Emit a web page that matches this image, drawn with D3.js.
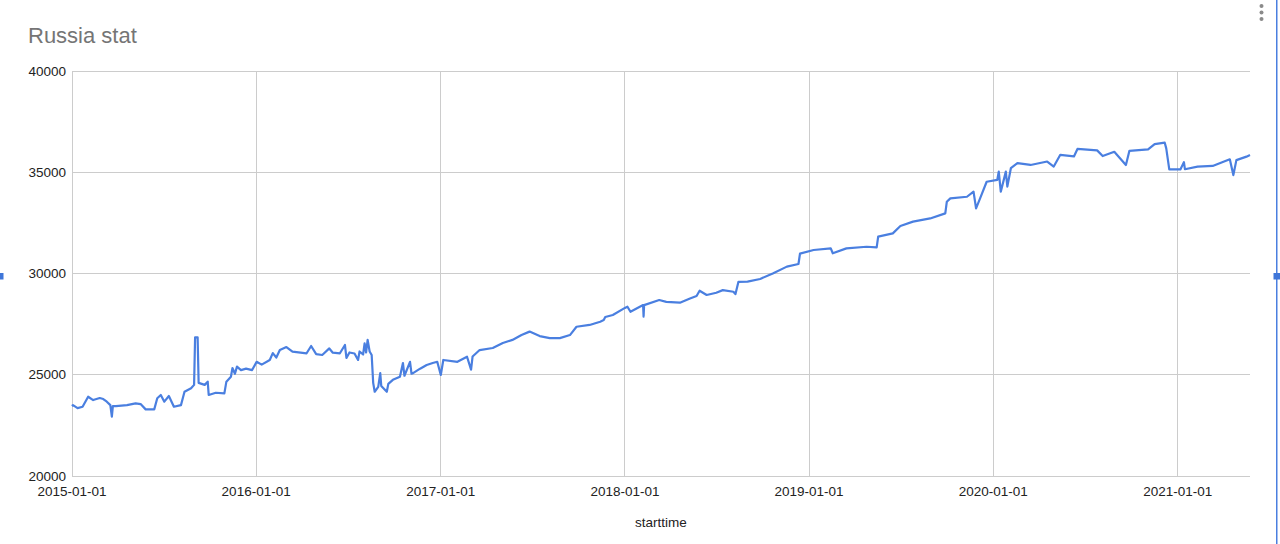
<!DOCTYPE html>
<html><head><meta charset="utf-8">
<script src="https://cdn.jsdelivr.net/npm/d3@7/dist/d3.min.js"></script>
<style>body{margin:0;background:#fff;overflow:hidden}svg{display:block}</style>
</head><body>
<svg id="c" width="1280" height="544"></svg>
<script>
const title = "Russia stat";
const xAxisTitle = "starttime";
const yTicks = [20000, 25000, 30000, 35000, 40000];
const xTickLabels = ["2015-01-01","2016-01-01","2017-01-01","2018-01-01","2019-01-01","2020-01-01","2021-01-01"];
const dates = [
"2015-01-01","2015-01-03","2015-01-12","2015-01-22","2015-02-02","2015-02-12","2015-02-25","2015-03-04","2015-03-11","2015-03-18","2015-03-21","2015-03-23","2015-03-29","2015-04-20","2015-05-07","2015-05-17","2015-05-27","2015-06-13","2015-06-19","2015-06-26","2015-07-03","2015-07-12","2015-07-22","2015-08-05","2015-08-12","2015-08-25","2015-08-31","2015-09-02","2015-09-07","2015-09-09","2015-09-21","2015-09-27","2015-09-29","2015-10-13","2015-10-30","2015-11-03","2015-11-12","2015-11-15","2015-11-20","2015-11-24","2015-12-02","2015-12-12","2015-12-24",
"2016-01-02","2016-01-12","2016-01-28","2016-02-03","2016-02-10","2016-02-17","2016-03-01","2016-03-13","2016-04-10","2016-04-19","2016-04-29","2016-05-11","2016-05-25","2016-06-01","2016-06-15","2016-06-25","2016-06-28","2016-07-04","2016-07-14","2016-07-21","2016-07-24","2016-07-31","2016-08-03","2016-08-06","2016-08-09","2016-08-13","2016-08-17","2016-08-20","2016-08-23","2016-08-30","2016-09-03","2016-09-05","2016-09-16","2016-09-19","2016-09-28","2016-10-12","2016-10-18","2016-10-21","2016-11-01","2016-11-04","2016-11-07","2016-11-21","2016-12-04","2016-12-16","2016-12-25",
"2017-01-01","2017-01-06","2017-02-03","2017-02-22","2017-03-02","2017-03-05","2017-03-19","2017-04-14","2017-05-04","2017-05-23","2017-06-10","2017-06-26","2017-07-16","2017-08-05","2017-08-25","2017-09-14","2017-09-27","2017-10-23","2017-11-13","2017-11-20","2017-11-23","2017-12-08",
"2018-01-01","2018-01-06","2018-01-12","2018-02-06","2018-02-07","2018-02-08","2018-03-10","2018-03-24","2018-04-20","2018-05-10","2018-05-23","2018-05-29","2018-06-12","2018-07-01","2018-07-14","2018-08-04","2018-08-08","2018-08-14","2018-09-01","2018-09-26","2018-10-21","2018-11-18","2018-12-11","2018-12-14",
"2019-01-10","2019-02-13","2019-02-17","2019-03-16","2019-04-25","2019-05-15","2019-05-18","2019-06-16","2019-07-01","2019-07-26","2019-08-29","2019-09-28","2019-10-01","2019-10-08","2019-11-10","2019-11-23","2019-11-28","2019-12-06","2019-12-19",
"2020-01-09","2020-01-12","2020-01-16","2020-01-26","2020-01-29","2020-02-05","2020-02-18","2020-03-15","2020-04-17","2020-04-30","2020-05-13","2020-06-09","2020-06-16","2020-07-25","2020-08-05","2020-08-28","2020-09-20","2020-09-27","2020-11-03","2020-11-16","2020-12-06","2020-12-09","2020-12-15",
"2021-01-06","2021-01-13","2021-01-15","2021-02-09","2021-03-11","2021-04-14","2021-04-21","2021-04-27","2021-05-17","2021-05-24"
];
const values = [
23450,23500,23350,23420,23915,23750,23850,23800,23670,23500,22930,23450,23450,23500,23590,23550,23290,23290,23840,24000,23670,23950,23420,23500,24160,24330,24500,26850,26850,24600,24500,24660,24000,24110,24080,24660,24900,25330,25050,25400,25230,25300,25230,
25640,25500,25730,26070,25850,26220,26370,26140,26060,26420,26020,25975,26300,26090,26060,26470,25830,26100,26050,25730,26150,26000,26550,26100,26720,26150,25975,24600,24160,24400,25080,24450,24160,24550,24750,24900,25580,24950,25640,25050,25080,25300,25480,25580,25640,
24990,25730,25640,25890,25250,25900,26220,26320,26570,26720,26960,27130,26910,26810,26810,26960,27370,27460,27620,27700,27850,27950,
28300,28360,28110,28440,27870,28440,28690,28600,28560,28770,28890,29150,28940,29050,29180,29100,28980,29590,29600,29730,30000,30340,30470,30980,
31160,31240,31000,31240,31320,31290,31820,31980,32345,32560,32720,32970,33540,33710,33790,34040,33220,33710,34530,
34620,35030,34040,35030,34290,35200,35450,35360,35530,35280,35860,35780,36150,36080,35800,36010,35360,36060,36130,36390,36460,36180,35140,
35140,35500,35150,35280,35310,35640,34860,35600,35770,35850
];

const parse = d3.timeParse("%Y-%m-%d");
const data = dates.map((d,i)=>({t:parse(d), v:values[i]}));
const svg = d3.select("#c");
const L=72, R=1250, T=71, B=476;
const x = d3.scaleTime().domain([parse("2015-01-01"), parse("2021-05-24")]).range([L,R]);
const y = d3.scaleLinear().domain([20000,40000]).range([B,T]);
const font = "Arial, 'Liberation Sans', sans-serif";

// gridlines
svg.append("g").selectAll("line").data(yTicks).join("line")
  .attr("x1",L).attr("x2",R).attr("y1",d=>y(d)).attr("y2",d=>y(d))
  .attr("stroke","#cccccc").attr("stroke-width",1).attr("shape-rendering","crispEdges");
const xt = xTickLabels.map(parse);
svg.append("g").selectAll("line").data(xt).join("line")
  .attr("x1",d=>x(d)).attr("x2",d=>x(d)).attr("y1",T).attr("y2",B)
  .attr("stroke","#cccccc").attr("stroke-width",1).attr("shape-rendering","crispEdges");

// y labels
svg.append("g").selectAll("text").data(yTicks).join("text")
  .attr("x",L-6).attr("y",d=>y(d)).attr("dy","0.35em").attr("text-anchor","end")
  .attr("font-family",font).attr("font-size",13.5).attr("fill","#222").text(d=>d);
// x labels
svg.append("g").selectAll("text").data(xt).join("text")
  .attr("x",d=>x(d)).attr("y",B+20).attr("text-anchor","middle")
  .attr("font-family",font).attr("font-size",13.5).attr("fill","#222")
  .text((d,i)=>xTickLabels[i]);

// line
svg.append("path").datum(data)
  .attr("d", d3.line().x(d=>x(d.t)).y(d=>y(d.v)))
  .attr("fill","none").attr("stroke","#4a7fe0").attr("stroke-width",2.2).attr("stroke-linejoin","round");

// title
svg.append("text").attr("x",28).attr("y",43).attr("font-family",font).attr("font-size",22)
  .attr("fill","#757575").text(title);
svg.append("text").attr("x",(L+R)/2).attr("y",527).attr("text-anchor","middle")
  .attr("font-family",font).attr("font-size",13.5).attr("fill","#222").text(xAxisTitle);

// decorations (menu dots, selection handles)
svg.append("g").selectAll("circle").data([6,12.5,19]).join("circle")
  .attr("cx",1261.5).attr("cy",d=>d).attr("r",2).attr("fill","#8a8a8a");
svg.append("rect").attr("x",1276).attr("y",0).attr("width",1.5).attr("height",544).attr("fill","#4a7fe0");
svg.append("rect").attr("x",1273.5).attr("y",273).attr("width",6.5).attr("height",6.5).attr("fill","#3f76d9");
svg.append("rect").attr("x",0).attr("y",273).attr("width",3.5).attr("height",6.5).attr("fill","#3f76d9");
</script>
</body></html>
